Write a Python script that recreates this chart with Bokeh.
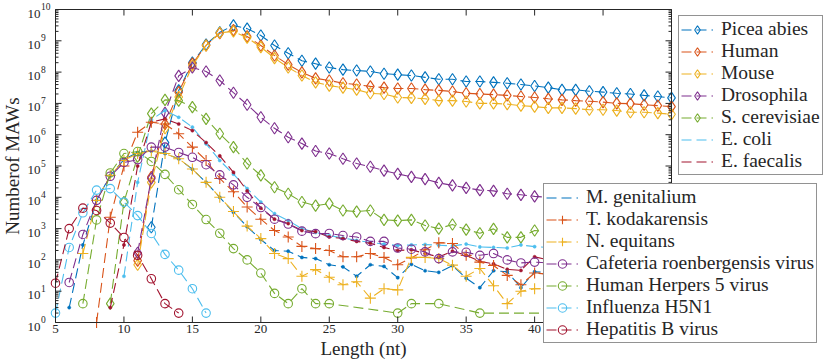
import math
from bokeh.plotting import figure
from bokeh.models import Legend, LegendItem, Range1d
from bokeh.embed import file_html
from bokeh.resources import INLINE

# ---------------- data ----------------
x_ticks = [5, 10, 15, 20, 25, 30, 35, 40, 45, 50]
x_tick_labels = ["5", "10", "15", "20", "25", "30", "35", "40", "45", "50"]
y_ticks = [1, 1e1, 1e2, 1e3, 1e4, 1e5, 1e6, 1e7, 1e8, 1e9, 1e10]
y_tick_base = ["10"] * 11
y_tick_exp = ["0", "1", "2", "3", "4", "5", "6", "7", "8", "9", "10"]

picea_x = list(range(12, 51))
picea_y = [1.1e3, 5.6e5, 2.6e7, 2.0e8, 7.6e8, 1.86e9, 3.1e9, 2.45e9, 1.48e9, 7.1e8,
           4.0e8, 2.3e8, 1.86e8, 1.4e8, 1.2e8, 1.12e8, 1.05e8, 8.9e7, 8.3e7, 7.8e7,
           6.8e7, 5.9e7, 5.9e7, 5.0e7, 5.0e7, 4.7e7, 4.4e7, 4.0e7, 3.6e7, 3.2e7,
           2.7e7, 2.7e7, 2.45e7, 2.3e7, 2.1e7, 2.0e7, 1.8e7, 1.66e7, 1.5e7]

human_x = list(range(11, 51))
human_y = [95, 4.4e4, 2.2e6, 2.3e7, 1.86e8, 7.1e8, 1.74e9, 2.2e9, 1.38e9, 7.1e8,
           3.4e8, 1.74e8, 9.8e7, 6.3e7, 5.4e7, 4.4e7, 4.0e7, 3.5e7, 3.2e7, 3.0e7,
           3.0e7, 2.75e7, 2.6e7, 2.4e7, 2.1e7, 2.0e7, 1.9e7, 1.8e7, 1.66e7, 1.55e7,
           1.4e7, 1.3e7, 1.23e7, 1.17e7, 1.1e7, 1.0e7, 9.8e6, 9.1e6, 8.5e6, 7.9e6]

mouse_x = list(range(11, 51))
mouse_y = [70, 3.0e4, 1.6e6, 1.6e7, 1.6e8, 7.1e8, 1.8e9, 2.0e9, 1.26e9, 6.3e8,
           2.8e8, 1.4e8, 7.8e7, 4.7e7, 3.7e7, 3.2e7, 2.75e7, 2.1e7, 2.0e7, 1.55e7,
           1.5e7, 1.4e7, 1.23e7, 1.23e7, 1.15e7, 1.0e7, 1.0e7, 9.5e6, 8.5e6, 7.9e6,
           7.2e6, 7.2e6, 6.8e6, 6.3e6, 6.3e6, 5.9e6, 5.2e6, 5.2e6, 4.9e6, 4.5e6]

dros_x = list(range(11, 42))
dros_y = [170, 4e4, 5e6, 7.6e7, 1.4e8, 1.05e8, 5.4e7, 2.2e7, 9.1e6, 3.6e6,
          1.6e6, 8.3e5, 5.2e5, 3.0e5, 2.5e5, 1.7e5, 1.2e5, 9.5e4, 7.1e4, 5.6e4,
          4.5e4, 3.8e4, 2.9e4, 2.4e4, 2.0e4, 1.7e4, 1.6e4, 1.3e4, 1.2e4, 1.07e4,
          1.0e4]

scer_x = list(range(9, 42))
scer_y = [4, 7e3, 2e5, 4.7e6, 1.3e7, 1.23e7, 7.6e6, 3.2e6, 1.07e6, 4.0e5,
          1.2e5, 5.0e4, 2.1e4, 1.3e4, 7.1e3, 5.4e3, 6.3e3, 3.8e3, 3.5e3, 3.8e3,
          1.9e3, 1.8e3, 1.9e3, 1.26e3, 1.0e3, 1.35e3, 930, 710, 980, 525,
          525, 870, 800]

ecoli_x = list(range(10, 42))
ecoli_y = [30, 3e4, 3e6, 5.9e6, 3.6e6, 1.74e6, 5.1e5, 1.5e5, 5.5e4, 1.9e4,
           7e3, 3e3, 1.8e3, 1.0e3, 750, 600, 500, 420, 360, 320,
           290, 300, 310, 295, 280, 320, 260, 250, 240, 300,
           265, 250]

efae_x = list(range(9, 42))
efae_y = [3, 300, 1e5, 2.5e6, 3.2e6, 2.2e6, 1.35e6, 5.6e5, 2.1e5, 6.3e4,
          1.6e4, 4.5e3, 2e3, 1.45e3, 870, 800, 540, 480, 390, 340,
          250, 200, 210, 160, 125, 190, 140, 90, 75, 50,
          46, 125, 100]

mgen_x = list(range(6, 42))
mgen_y = [3, 300, 8000, 5e4, 1.6e5, 2.7e5, 3e5, 2.5e5, 1.7e5, 7.9e4,
          3e4, 1e4, 3.3e3, 1.15e3, 450, 200, 190, 120, 110, 70,
          60, 30, 70, 62, 27, 72, 45, 40, 65, 26,
          13, 45, 42, 13, 42, 40]

tkod_x = list(range(8, 42))
tkod_y = [1, 2300, 1e5, 1.2e6, 2.5e6, 2.2e6, 1.07e6, 4e5, 1.5e5, 4e4,
          1.5e4, 4.9e3, 2.0e3, 870, 540, 270, 230, 200, 126, 126,
          160, 120, 70, 115, 210, 355, 335, 140, 85, 66,
          32, 16, 38, 35]

nequ_x = list(range(7, 42))
nequ_y = [160, 8e3, 5e4, 1.5e5, 2.5e5, 3e5, 2.5e5, 1.7e5, 8e4, 3e4,
          1e4, 3.5e3, 1.2e3, 480, 160, 110, 30, 49, 28, 16,
          20, 6, 12, 11, 120, 120, 110, 68, 30, 53,
          15, 4, 10, 12, 12]

cafe_x = list(range(6, 42))
cafe_y = [19, 650, 8000, 4.7e4, 1.3e5, 1.6e5, 4e5, 4e5, 2.7e5, 1.9e5,
          1.1e5, 5.2e4, 2.5e4, 1e4, 4.7e3, 2e3, 1.4e3, 830, 690, 700,
          600, 540, 390, 390, 240, 220, 180, 110, 180, 175,
          140, 160, 100, 80, 85, 80]

hhv5_x = [7, 8, 9, 10, 11, 12, 13, 14, 15, 16, 17, 18, 19, 20, 21, 22, 23, 24, 25,
          30, 31, 33, 36, 42]
hhv5_y = [4, 1900, 6e4, 2.5e5, 2.9e5, 1.4e5, 5.4e4, 1.75e4, 5.9e3, 1.95e3,
          710, 230, 100, 38, 8.5, 4, 12, 4, 4,
          2, 4, 4, 2, 2]

h5n1_x = list(range(5, 17))
h5n1_y = [2, 250, 3200, 1.7e4, 1.9e4, 7e3, 2600, 700, 150, 47, 12, 2]

hepb_x = list(range(5, 15))
hepb_y = [18, 1000, 4500, 3800, 1500, 520, 140, 25, 4, 2]

names = ["Picea abies", "Human", "Mouse", "Drosophila", "S. cerevisiae", "E. coli",
         "E. faecalis", "M. genitalium", "T. kodakarensis", "N. equitans",
         "Cafeteria roenbergensis virus", "Human Herpers 5 virus", "Influenza H5N1",
         "Hepatitis B virus"]
xs_all = [picea_x, human_x, mouse_x, dros_x, scer_x, ecoli_x, efae_x,
          mgen_x, tkod_x, nequ_x, cafe_x, hhv5_x, h5n1_x, hepb_x]
ys_all = [picea_y, human_y, mouse_y, dros_y, scer_y, ecoli_y, efae_y,
          mgen_y, tkod_y, nequ_y, cafe_y, hhv5_y, h5n1_y, hepb_y]

# ---------------- layout constants ----------------
W, H = 831, 360
LEFT, TOP = 55, 9            # axes box left / top in px
BOX_W, BOX_H = 616, 313      # axes box size in px
x_lo, x_hi = x_ticks[0], x_ticks[-1]
y_lo, y_hi = y_ticks[0], y_ticks[-1]
# The drawing frame covers the whole canvas (so nothing overhanging the axes box
# gets clipped); the ranges are set so that the box lands at LEFT/TOP/BOX_W/BOX_H.
kx = BOX_W / (x_hi - x_lo)
ky = BOX_H / (math.log10(y_hi) - math.log10(y_lo))
fx_lo = x_lo - LEFT / kx
fx_hi = x_lo + (W - LEFT) / kx
fy_hi = 10 ** (math.log10(y_hi) + TOP / ky)
fy_lo = 10 ** (math.log10(y_hi) - (H - TOP) / ky)

palette = ["#0072BD", "#D95319", "#EDB120", "#7E2F8E", "#77AC30", "#4DBEEE", "#A2142F"]
markers = ["diamond"] * 5 + ["dot"] * 3 + ["cross"] * 2 + ["circle"] * 4
FONT = "Liberation Serif"
INK = "#262626"

p = figure(width=W, height=H, y_axis_type="log",
           x_axis_location=None, y_axis_location=None,
           x_range=Range1d(fx_lo, fx_hi), y_range=Range1d(fy_lo, fy_hi),
           output_backend="svg", toolbar_location=None,
           min_border_left=0, min_border_right=0,
           min_border_top=0, min_border_bottom=0)
p.outline_line_color = None
p.xgrid.visible = False
p.ygrid.visible = False
p.background_fill_color = "white"
p.border_fill_color = "white"

items = []
for i, (nm, xs, ys) in enumerate(zip(names, xs_all, ys_all)):
    c = palette[i % 7]
    rl = p.line(xs, ys, line_color=c, line_width=1.1, line_dash="10 5")
    m = markers[i]
    if m == "diamond":
        rm = p.scatter(xs, ys, marker="diamond", size=11.5, line_color=c,
                       fill_color=None, line_width=1.1)
    elif m == "dot":
        rm = p.scatter(xs, ys, marker="circle", size=3.2, line_color=c,
                       fill_color=c, line_width=0.5)
    elif m == "cross":
        rm = p.scatter(xs, ys, marker="cross", size=11, line_color=c,
                       line_width=1.1)
    else:
        rm = p.scatter(xs, ys, marker="circle", size=8.5, line_color=c,
                       fill_color=None, line_width=1.1)
    # the tiny dots would be blown up in the legend: show only the line there
    items.append(LegendItem(label=nm, renderers=[rl] if m == "dot" else [rl, rm]))

# ---------------- axes box, inward ticks on all four sides ----------------
y_minor = [m * t for t in y_ticks[:-1] for m in range(2, 10)]
nx, ny, nm_ = len(x_ticks), len(y_ticks), len(y_minor)
for xx, yy in [([x_lo, x_hi], [y_lo, y_lo]), ([x_lo, x_hi], [y_hi, y_hi]),
               ([x_lo, x_lo], [y_lo, y_hi]), ([x_hi, x_hi], [y_lo, y_hi])]:
    p.line(xx, yy, line_color=INK, line_width=1)
p.ray(x=x_ticks, y=[y_lo] * nx, length=6, length_units="screen",
      angle=math.pi / 2, line_color=INK, line_width=1)
p.ray(x=x_ticks, y=[y_hi] * nx, length=6, length_units="screen",
      angle=-math.pi / 2, line_color=INK, line_width=1)
p.ray(x=[x_lo] * ny, y=y_ticks, length=6, length_units="screen",
      angle=0, line_color=INK, line_width=1)
p.ray(x=[x_hi] * ny, y=y_ticks, length=6, length_units="screen",
      angle=math.pi, line_color=INK, line_width=1)
p.ray(x=[x_lo] * nm_, y=y_minor, length=3, length_units="screen",
      angle=0, line_color=INK, line_width=1)
p.ray(x=[x_hi] * nm_, y=y_minor, length=3, length_units="screen",
      angle=math.pi, line_color=INK, line_width=1)

# tick labels
p.text(x=x_ticks, y=[y_lo] * nx, text=x_tick_labels, y_offset=2,
       text_align="center", text_baseline="top", text_font={"value": FONT},
       text_font_size={"value": "13px"}, text_color=INK)
p.text(x=[x_lo] * ny, y=y_ticks, text=y_tick_base, x_offset=-15, y_offset=4,
       text_align="right", text_baseline="middle", text_font={"value": FONT},
       text_font_size={"value": "13px"}, text_color=INK)
p.text(x=[x_lo] * ny, y=y_ticks, text=y_tick_exp, x_offset=-14.5, y_offset=-3,
       text_align="left", text_baseline="middle", text_font={"value": FONT},
       text_font_size={"value": "9.5px"}, text_color=INK)

# axis titles
p.text(x=[(x_lo + x_hi) / 2], y=[y_lo], text=["Length (nt)"], y_offset=26,
       text_align="center", text_baseline="alphabetic", text_font={"value": FONT},
       text_font_size={"value": "19px"}, text_color=INK)
p.text(x=[x_lo], y=[math.sqrt(y_lo * y_hi)], text=["Numberof MAWs"], x_offset=-43,
       angle=math.pi / 2, text_align="center", text_baseline="alphabetic",
       text_font={"value": FONT}, text_font_size={"value": "19px"}, text_color=INK)

# ---------------- legends ----------------
def make_legend(its, left_px, bottom_px):
    return Legend(items=its, location=(left_px, H - bottom_px),
                  orientation="vertical",
                  label_text_font=FONT, label_text_font_size="19.5px",
                  label_text_color=INK,
                  glyph_width=32, glyph_height=21, label_height=21,
                  label_standoff=8, spacing=0, padding=2, margin=0,
                  border_line_color=INK, border_line_width=1.3,
                  background_fill_color="white", background_fill_alpha=1.0)

p.add_layout(make_legend(items[:7], 678, 175), "center")
p.add_layout(make_legend(items[7:], 543, 343), "center")

open("out.html", "w").write(file_html(p, INLINE))
